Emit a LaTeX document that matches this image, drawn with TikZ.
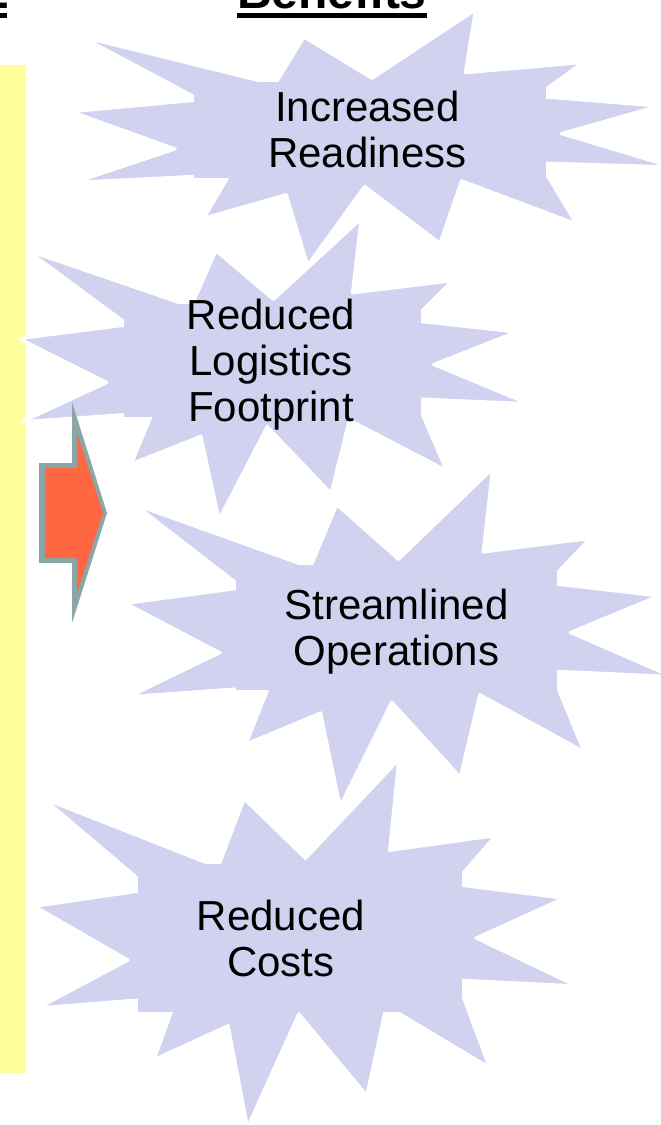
\documentclass[tikz,border=0pt]{standalone}
\usepackage{fontspec}
\setmainfont{Liberation Sans}
\definecolor{sealblue}{RGB}{209,210,239}
\definecolor{padyellow}{RGB}{255,255,153}
\definecolor{arrowred}{RGB}{255,102,66}
\definecolor{arrowgray}{RGB}{138,166,166}
\tikzset{
  sealfill/.style={fill=sealblue, draw=white, line width=3pt, line join=round},
  sealtext/.style={font=\fontsize{42}{46}\selectfont, align=center, text=black, inner sep=0pt},
  headtext/.style={font=\bfseries\fontsize{48}{58}\selectfont, text=black, inner sep=0pt},
  headline/.style={line width=4.5pt, black},
}
% #1,#2 = top-left corner, #3,#4 = width, height, #5 = text box left, #6 = text box bottom (percent)
\newcommand\drawseal[6]{%
  \begin{scope}[shift={(#1,#2)}, xscale=#3/100, yscale=#4/100]
    \path[sealfill] (50,26.85) -- (67.23,0) -- (65.53,24.65) -- (85.09,20.63) -- (77.32,33.87)
      -- (97.67,37.67) -- (81.51,48.50) -- (100,61.53) -- (77.95,59.92) -- (84.00,83.77)
      -- (64.91,66.93) -- (61.33,91.38) -- (48.76,69.14) -- (39.28,100) -- (35.72,72.35)
      -- (22.05,81.56) -- (26.24,64.52) -- (0.625,67.53) -- (17.23,54.51) -- (0,39.88)
      -- (21.42,35.26) -- (1.71,10.63) -- (33.85,29.26) -- (38.67,10.63) -- cycle;
    \fill[sealblue] (#5,28.4) rectangle (79,#6);
  \end{scope}}
\begin{document}
\begin{tikzpicture}[x=1pt,y=-1pt]
\useasboundingbox (0,0) rectangle (661,1125);
\clip (0,0) rectangle (661,1125);

% yellow side bar
\fill[padyellow] (0,65) rectangle (26,1073);

% headings
\node[headtext, anchor=base east] (lefthead) at (9,8) {2};
\draw[headline] ([shift={(-20,7.5)}]lefthead.base east) -- ([shift={(-2,7.5)}]lefthead.base east);
\node[headtext, anchor=base] (title) at (332,8) {Benefits};
\draw[headline] ([shift={(0,7.5)}]title.base west) -- ([shift={(0,7.5)}]title.base east);

% explosions
\drawseal{72}{10}{600}{255}{20.3}{66}
\drawseal{19.5}{219}{508}{300}{20.5}{66}
\drawseal{126}{469}{545}{337}{20.2}{65.6}
\drawseal{35}{760}{541}{367}{19}{68.7}

% block arrow
\fill[arrowgray] (39,463) -- (72,463) -- (72,402) -- (107,513) -- (72,623) -- (72,563) -- (39,563) -- cycle;
\fill[arrowred] (45,468) -- (77,468) -- (77,433) -- (103,513) -- (77,593) -- (77,558) -- (45,558) -- cycle;

% labels
\node[sealtext, anchor=north] (ready) at (367.5,90.5) {Increased\\Readiness};
\node[sealtext, anchor=north] (logi) at (271,298.5) {Reduced\\Logistics\\Footprint};
\node[sealtext, anchor=north] (stream) at (396.5,588.5) {Streamlined\\Operations};
\node[sealtext, anchor=north] (costs) at (281,899.5) {Reduced\\Costs};
\end{tikzpicture}
\end{document}
